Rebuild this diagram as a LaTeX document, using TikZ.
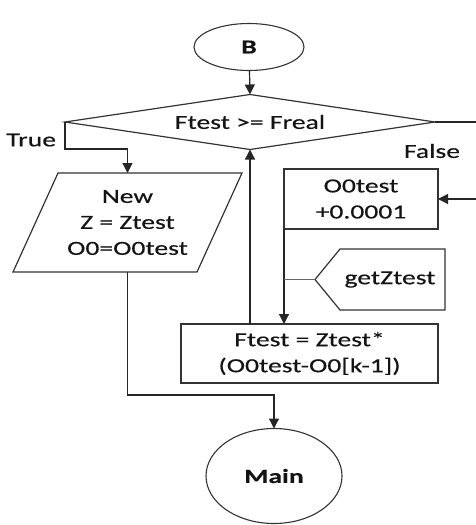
\documentclass[tikz,border=0pt]{standalone}
\usepackage{fontspec}
\setmainfont{Carlito}[FakeStretch=1.38, FakeBold=0.35]
\usetikzlibrary{arrows.meta,calc,shapes.geometric}

\tikzset{
  every node/.style={inner sep=0pt, outer sep=0pt, text=black!92,
    font=\fontsize{20}{26}\selectfont, align=center},
  lineclr/.style={draw=black!85, line width=1.2pt},
  conn/.style={lineclr, -{Triangle[length=10pt,width=10pt]}},
  term/.style={ellipse, draw=black!80, line width=1.1pt, font=\fontsize{20}{26}\selectfont\bfseries},
  procbox/.style={rectangle, draw=black!80, line width=1.2pt},
  ghost/.style={rectangle, draw=none},
  shapeline/.style={draw=black!80, line width=1.2pt},
  lbl/.style={font=\fontsize{20}{26}\selectfont},
}

\begin{document}
\begin{tikzpicture}[x=1pt, y=-1pt]
  \useasboundingbox (0,0) rectangle (476,525);

  % terminals
  \node[term, minimum width=110pt, minimum height=47pt] (B) at (249,47) {B};
  \node[term, minimum width=136pt, minimum height=95pt] (main) at (274,476) {Main};

  % decision
  \node[ghost, minimum width=370pt, minimum height=55pt] (dec) at (250,122) {Ftest >= Freal};
  \draw[shapeline] (dec.west) -- (dec.north) -- (dec.east) -- (dec.south) -- cycle;

  % data (parallelogram)
  \node[ghost, minimum width=229pt, minimum height=99pt] (upd) at (127.5,222.5)
    {New\\Z = Ztest\\O0=O0test};
  \draw[shapeline] ($(upd.north west)+(45,0)$) -- (upd.north east)
    -- ($(upd.south east)+(-45,0)$) -- (upd.south west) -- cycle;

  % processes
  \node[procbox, minimum width=154pt, minimum height=60pt] (inc) at (361,199)
    {O0test\\+0.0001};
  \node[procbox, minimum width=257pt, minimum height=59pt] (calc) at (309.5,353.5)
    {Ftest = Ztest*\\(O0test-O0[k-1])};

  % display shape
  \node[ghost, minimum width=105pt, minimum height=61pt] (get) at (390,279.5) {getZtest};
  \coordinate (gettip) at ($(get.west)+(-25,0)$);
  \draw[shapeline] ($(get.north west)+(2.5,0)$) -- ($(get.north east)+(2.5,0)$)
    -- ($(get.south east)+(2.5,0)$) -- ($(get.south west)+(2.5,0)$)
    -- ($(gettip)+(2.5,0)$) -- cycle;

  % labels
  \node[lbl, anchor=east] (true) at (56,140) {True};
  \node[lbl] (false) at (432,151) {False};

  % helper coordinates
  \coordinate (truebend) at (0,149);
  \coordinate (farright) at (484,0);
  \coordinate (join) at (0,395);
  \coordinate (trunk) at (inc.south west);

  % connectors
  \draw[conn] (B) -- (dec.north);
  \draw[conn] (dec.west) -- (dec.west |- truebend) -- (truebend -| upd.north) -- (upd.north);
  \draw[conn] (dec.east) -- (dec.east -| farright) -- (inc.east -| farright) -- (inc.east);
  \draw[conn] (trunk) -- (trunk |- calc.north);
  \draw[draw=black!60, line width=1.1pt] (trunk |- gettip) -- ($(gettip)+(2.5,0)$);
  \draw[conn] (dec.south |- calc.north) -- (dec.south);
  \draw[conn] (upd.south) -- (upd.south |- join) -- (join -| main.north) -- (main.north);
\end{tikzpicture}
\end{document}
